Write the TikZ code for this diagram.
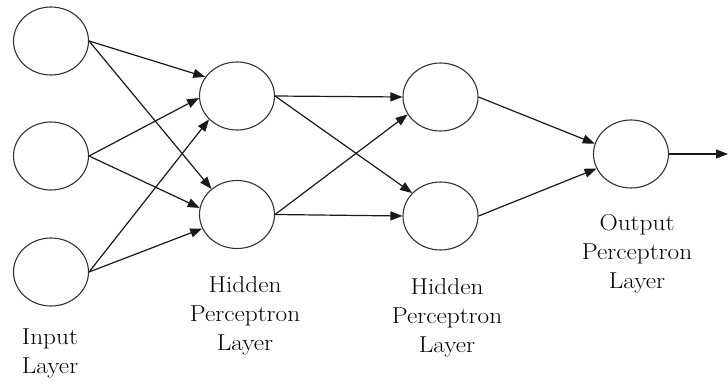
\documentclass[tikz,border=0pt]{standalone}
\usetikzlibrary{shapes.geometric,arrows.meta}
\newcommand{\lbltext}[1]{\scalebox{1.1}[1]{\begin{tabular}{@{}c@{}}#1\end{tabular}}}
\begin{document}
\begin{tikzpicture}[x=1pt,y=-1pt,
  neuron/.style={ellipse,draw=black!80,line width=1.1pt,minimum width=75pt,minimum height=68pt,inner sep=0pt},
  conn/.style={draw=black!90,line width=1.2pt,-{Triangle[length=12pt,width=9pt]}},
  lbl/.style={align=center,font=\rmfamily\fontsize{23}{29}\selectfont,inner sep=0pt}]
\useasboundingbox[fill=white] (0,0) rectangle (728,383);
\node[neuron] (i1) at (51,41) {};
\node[neuron] (i2) at (51,156) {};
\node[neuron] (i3) at (51,272) {};
\node[neuron] (a1) at (237,96) {};
\node[neuron] (a2) at (237,214.5) {};
\node[neuron] (b1) at (440.5,97) {};
\node[neuron] (b2) at (440.5,216) {};
\node[neuron] (o) at (631,154) {};
\coordinate (out) at (728,154);
\draw[conn] (i1.east) -- (a1.149);
\draw[conn] (i2.east) -- (a1.183);
\draw[conn] (i3.east) -- (a1.220);
\draw[conn] (i1.east) -- (a2.135);
\draw[conn] (i2.east) -- (a2.170);
\draw[conn] (i3.east) -- (a2.202);
\draw[conn] (a1.east) -- (b1.180);
\draw[conn] (a2.east) -- (b1.208);
\draw[conn] (a1.east) -- (b2.141);
\draw[conn] (a2.east) -- (b2.180);
\draw[conn] (b1.east) -- (o.164);
\draw[conn] (b2.east) -- (o.203);
\draw[conn] (o.east) -- (out);
\node[lbl] (li) at (50,353) {\lbltext{Input\\Layer}};
\node[lbl] (la) at (245,316) {\lbltext{Hidden\\Perceptron\\Layer}};
\node[lbl] (lb) at (447,318) {\lbltext{Hidden\\Perceptron\\Layer}};
\node[lbl] (lo) at (637,254) {\lbltext{Output\\Perceptron\\Layer}};
\end{tikzpicture}
\end{document}
